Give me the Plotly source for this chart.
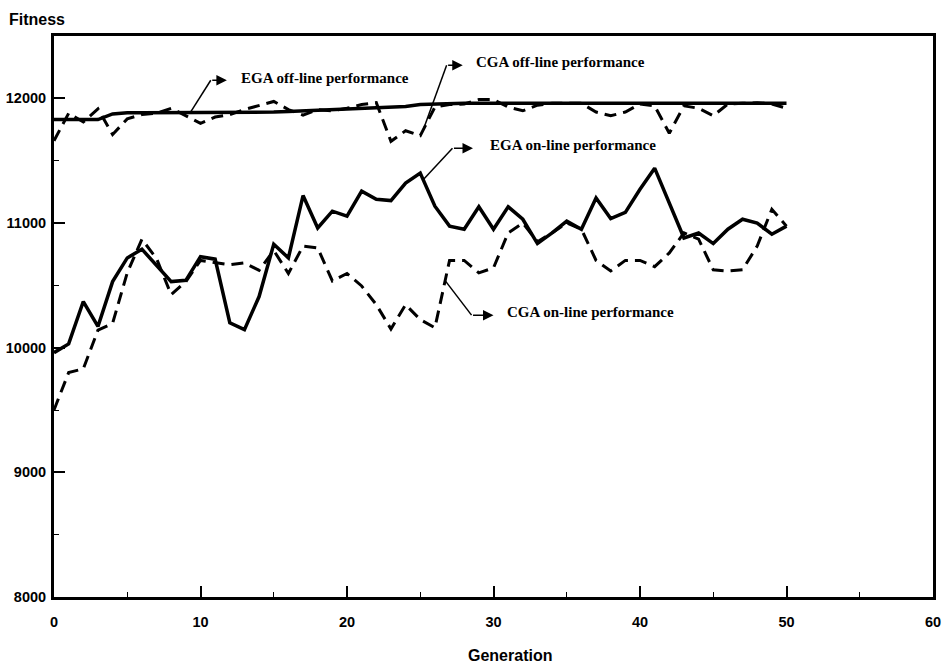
import numpy as np
import plotly.graph_objects as go

# Generation index 0..50
generations = list(range(51))

# Off-line performance (average of best-so-far fitness)
ega_offline = [11830, 11830, 11830, 11830, 11875, 11885, 11885, 11885, 11885, 11885,
               11885, 11885, 11885, 11885, 11885, 11890, 11895, 11900, 11905, 11910,
               11915, 11918, 11920, 11925, 11935, 11950, 11955, 11958, 11960, 11960,
               11960, 11960, 11960, 11960, 11960, 11960, 11960, 11960, 11960, 11960,
               11960, 11960, 11960, 11960, 11960, 11960, 11960, 11960, 11960, 11960,
               11960]
cga_offline = [11660, 11880, 11810, 11915, 11710, 11835, 11870, 11880, 11920, 11860,
               11800, 11850, 11870, 11910, 11945, 11975, 11910, 11865, 11910, 11900,
               11920, 11950, 11965, 11655, 11740, 11700, 11930, 11950, 11955, 11990,
               11990, 11930, 11900, 11945, 11960, 11960, 11960, 11890, 11860, 11890,
               11955, 11940, 11720, 11940, 11920, 11860, 11955, 11960, 11965, 11955,
               11920]

# On-line performance (average fitness of all evaluations)
ega_online = [9960, 10030, 10370, 10170, 10530, 10720, 10790, 10660, 10530, 10540,
              10730, 10710, 10200, 10145, 10410, 10830, 10720, 11220, 10960, 11095,
              11055, 11255, 11190, 11180, 11320, 11400, 11135, 10975, 10950, 11130,
              10950, 11130, 11030, 10835, 10920, 11015, 10950, 11200, 11035, 11085,
              11270, 11440, 11160, 10880, 10920, 10835, 10950, 11030, 11000, 10910,
              10975]
cga_online = [9500, 9800, 9830, 10140, 10195, 10600, 10870, 10715, 10425, 10530,
              10700, 10680, 10665, 10680, 10620, 10780, 10595, 10815, 10800, 10535,
              10595, 10495, 10345, 10150, 10345, 10225, 10160, 10700, 10700, 10600,
              10640, 10920, 11000, 10850, 10920, 11000, 10950, 10700, 10615, 10700,
              10700, 10650, 10760, 10920, 10870, 10625, 10615, 10625, 10815, 11110,
              10975]

x_ticks = [0, 10, 20, 30, 40, 50, 60]
y_ticks = [8000, 9000, 10000, 11000, 12000]

SOLID_W = 3.5
DASH_W = 3.0
DASH = "12px,7px"

fig = go.Figure()
series = [
    (ega_offline, "EGA off-line performance", "solid", SOLID_W),
    (cga_offline, "CGA off-line performance", DASH, DASH_W),
    (ega_online, "EGA on-line performance", "solid", SOLID_W),
    (cga_online, "CGA on-line performance", DASH, DASH_W),
]
for vals, name, dash, w in series:
    fig.add_trace(go.Scatter(
        x=generations, y=vals, name=name, mode="lines",
        line=dict(color="black", width=w, dash=dash),
    ))

# Callouts: leader from a point on the curve to an elbow, then an arrow to the label
callouts = [
    # (series, start x, elbow, tip, label position, text)
    (ega_offline, 9.3, (10.7, 12145), (11.8, 12145), (12.6, 12165), "EGA off-line performance"),
    (cga_offline, 25.2, (26.8, 12265), (27.9, 12265), (28.7, 12290), "CGA off-line performance"),
    (ega_online, 25.2, (27.2, 11600), (28.6, 11600), (29.6, 11623), "EGA on-line performance"),
    (cga_online, 26.7, (28.5, 10261), (30.0, 10261), (30.8, 10285), "CGA on-line performance"),
]
serif = dict(family="Liberation Serif, Times New Roman, serif", size=15, color="black", weight="bold")
for vals, sx, elbow, tip, lab, text in callouts:
    sy = float(np.interp(sx, generations, vals))
    fig.add_trace(go.Scatter(
        x=[sx, elbow[0]], y=[sy, elbow[1]], mode="lines",
        line=dict(color="black", width=1.5), hoverinfo="skip", showlegend=False,
    ))
    fig.add_annotation(
        x=tip[0], y=tip[1], ax=elbow[0], ay=elbow[1], axref="x", ayref="y",
        xref="x", yref="y", text="", showarrow=True,
        arrowhead=2, arrowsize=1.4, arrowwidth=1.5, arrowcolor="black",
    )
    fig.add_annotation(
        x=lab[0], y=lab[1], xref="x", yref="y", text=text, showarrow=False,
        xanchor="left", yanchor="middle", font=serif,
    )

sans_bold = dict(family="Liberation Sans, Arial, sans-serif", color="black", weight="bold")

fig.add_annotation(
    x=-0.0535, y=1.030, xref="paper", yref="paper", text="Fitness", showarrow=False,
    xanchor="left", yanchor="middle", font=dict(size=16, **sans_bold),
)
fig.add_annotation(
    x=0.519, y=-0.105, xref="paper", yref="paper", text="Generation", showarrow=False,
    xanchor="center", yanchor="middle", font=dict(size=16, **sans_bold),
)

fig.update_xaxes(
    range=[0, 60], tickvals=x_ticks, ticktext=[str(v) for v in x_ticks],
    ticks="inside", ticklen=11, tickwidth=1.5, tickcolor="black",
    minor=dict(dtick=5, ticks="inside", ticklen=5, tickwidth=1, tickcolor="black"),
    showline=True, linewidth=3, linecolor="black", mirror=True,
    showgrid=False, zeroline=False, automargin=False,
    tickfont=dict(size=14.5, **sans_bold), ticklabelstandoff=10,
)
fig.update_yaxes(
    range=[8000, 12500], tickvals=y_ticks, ticktext=[str(v) for v in y_ticks],
    ticks="inside", ticklen=11, tickwidth=1.5, tickcolor="black",
    minor=dict(dtick=500, ticks="inside", ticklen=5, tickwidth=1, tickcolor="black"),
    showline=True, linewidth=3, linecolor="black", mirror=True,
    showgrid=False, zeroline=False, automargin=False,
    tickfont=dict(size=14.5, **sans_bold), ticklabelstandoff=2,
)
fig.update_layout(
    width=946, height=666,
    margin=dict(l=54, r=13, t=36, b=69),
    paper_bgcolor="white", plot_bgcolor="white",
    showlegend=False,
)

fig.write_html("out.html")
